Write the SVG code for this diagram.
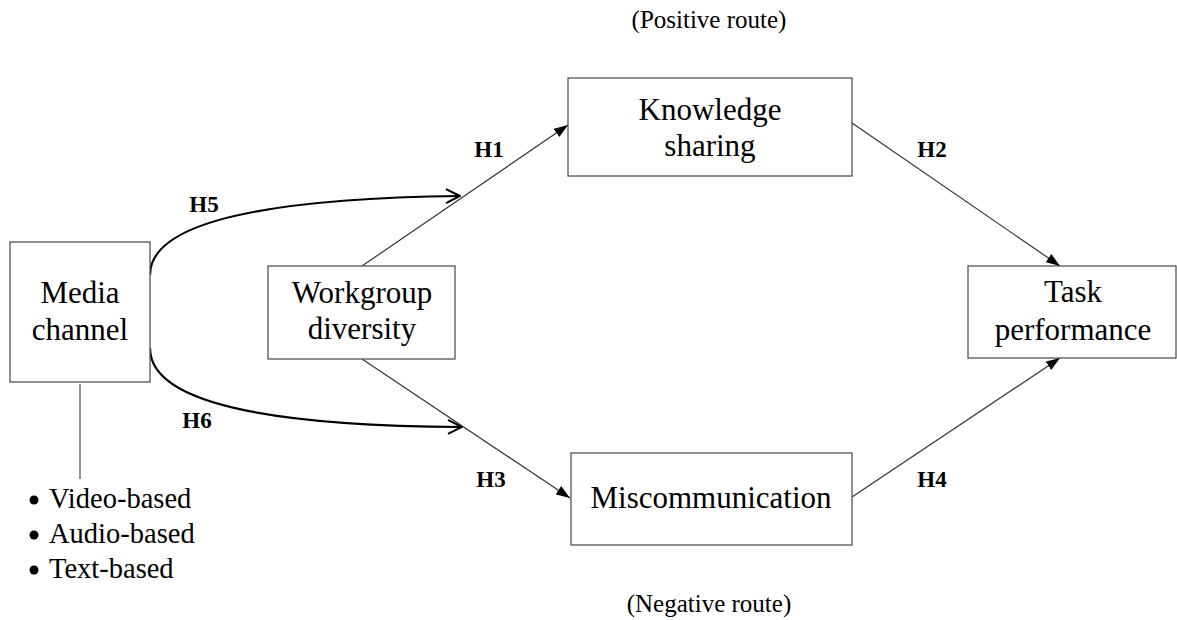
<svg xmlns="http://www.w3.org/2000/svg" width="1177" height="620" viewBox="0 0 1177 620">
<style>
.box{fill:#fff;stroke:#555;stroke-width:1.3}
.t{font-family:"Liberation Serif","Times New Roman",serif;font-size:31px;fill:#000;text-anchor:middle}
.h{font-family:"Liberation Serif","Times New Roman",serif;font-size:23px;font-weight:bold;fill:#000;text-anchor:middle}
.r{font-family:"Liberation Serif","Times New Roman",serif;font-size:25px;fill:#000;text-anchor:middle}
.b{font-family:"Liberation Serif","Times New Roman",serif;font-size:28.5px;fill:#000}
.ln{stroke:#333;stroke-width:1.2;fill:none}
.cv{stroke:#000;stroke-width:2.2;fill:none}
</style>
<defs>
<marker id="tri" viewBox="0 0 14 10" refX="14" refY="5" markerWidth="14" markerHeight="10" markerUnits="userSpaceOnUse" orient="auto">
<path d="M0,0 L14,5 L0,10 Z" fill="#000"/>
</marker>
<marker id="open" viewBox="0 0 16 16" refX="15" refY="8" markerWidth="16" markerHeight="16" markerUnits="userSpaceOnUse" orient="auto">
<path d="M1,1 L15,8 L1,15" fill="none" stroke="#000" stroke-width="2"/>
</marker>
</defs>
<rect width="1177" height="620" fill="#fff"/>
<g id="connectors">
<line class="ln" x1="362" y1="266" x2="568" y2="125" marker-end="url(#tri)"/>
<line class="ln" x1="362" y1="359" x2="570" y2="498" marker-end="url(#tri)"/>
<line class="ln" x1="852" y1="123" x2="1060" y2="266" marker-end="url(#tri)"/>
<line class="ln" x1="852" y1="497" x2="1060" y2="358" marker-end="url(#tri)"/>
<path class="cv" d="M150,275 C150,215 300,198 460,196" marker-end="url(#open)"/>
<path class="cv" d="M150,348 C150,410 300,426 462,427" marker-end="url(#open)"/>
<line x1="80" y1="384" x2="80" y2="479" stroke="#555" stroke-width="1.3"/>
</g>
<g id="labels">
<text class="h" x="204" y="212">H5</text>
<text class="h" x="197" y="428">H6</text>
<text class="h" x="489" y="157">H1</text>
<text class="h" x="491" y="487">H3</text>
<text class="h" x="932" y="157">H2</text>
<text class="h" x="932" y="487">H4</text>
<text class="r" x="709" y="28">(Positive route)</text>
<text class="r" x="709" y="612">(Negative route)</text>
</g>
<g id="media-channel">
<rect class="box" x="10" y="242" width="140" height="140"/>
<text class="t" x="80" y="303">Media</text>
<text class="t" x="80" y="340">channel</text>
</g>
<g id="media-types">
<circle cx="34" cy="500" r="4.5"/>
<circle cx="34" cy="535" r="4.5"/>
<circle cx="34" cy="570" r="4.5"/>
<text class="b" x="49" y="508">Video-based</text>
<text class="b" x="49" y="543">Audio-based</text>
<text class="b" x="49" y="578">Text-based</text>
</g>
<g id="workgroup-diversity">
<rect class="box" x="268" y="266" width="187" height="93"/>
<text class="t" x="362" y="303">Workgroup</text>
<text class="t" x="362" y="339">diversity</text>
</g>
<g id="knowledge-sharing">
<rect class="box" x="568" y="78" width="284" height="98"/>
<text class="t" x="710" y="120">Knowledge</text>
<text class="t" x="710" y="156">sharing</text>
</g>
<g id="miscommunication">
<rect class="box" x="571" y="453" width="281" height="92"/>
<text class="t" x="711" y="508">Miscommunication</text>
</g>
<g id="task-performance">
<rect class="box" x="968" y="266" width="208" height="92"/>
<text class="t" x="1073" y="302">Task</text>
<text class="t" x="1073" y="340">performance</text>
</g>
</svg>
